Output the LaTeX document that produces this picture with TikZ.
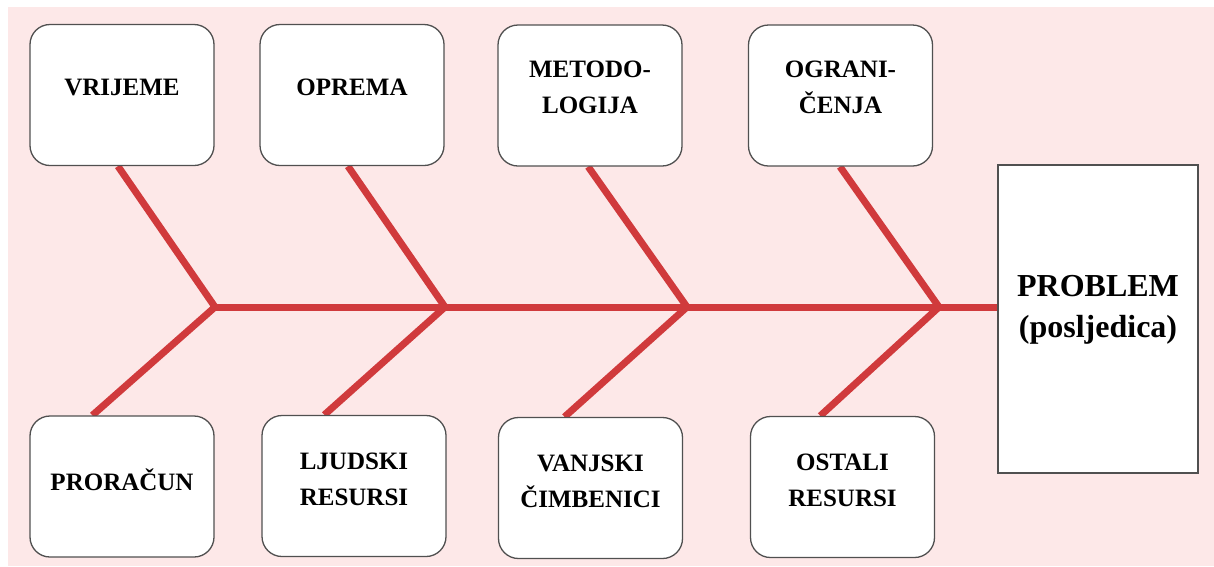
\documentclass[tikz,border=0pt]{standalone}
\usepackage{fontspec}
\setmainfont{Liberation Serif}
\usetikzlibrary{calc}
\pgfdeclarelayer{bg}
\pgfsetlayers{bg,main}
\definecolor{bonered}{RGB}{208,58,60}
\definecolor{pinkbg}{RGB}{253,232,232}
\definecolor{edgegray}{RGB}{80,80,80}
\tikzset{
  causebox/.style={draw=edgegray, line width=1.3pt, fill=white, rounded corners=20pt,
    minimum width=184pt, minimum height=141pt, inner sep=0pt},
  effectbox/.style={draw=edgegray, line width=1.5pt, fill=white,
    minimum width=200pt, minimum height=308pt, inner sep=0pt},
  lbl/.style={font=\fontsize{25}{36}\selectfont\bfseries, align=center, inner sep=0pt},
  biglbl/.style={font=\fontsize{32}{41}\selectfont\bfseries, align=center, inner sep=0pt},
  bone/.style={draw=bonered, line width=7pt, line join=miter},
}
\begin{document}
\begin{tikzpicture}[x=1pt,y=-1pt]
\useasboundingbox (0,0) rectangle (1214,566);
% cause boxes (top)
\node[causebox] (t1) at (122,95) {};
\node[causebox] (t2) at (352,95) {};
\node[causebox] (t3) at (590,95.5) {};
\node[causebox] (t4) at (840.5,95.5) {};
% cause boxes (bottom)
\node[causebox] (b1) at (122,486.5) {};
\node[causebox] (b2) at (354,486) {};
\node[causebox] (b3) at (590.5,488) {};
\node[causebox] (b4) at (842.5,487) {};
% effect
\node[effectbox] (pr) at (1098,319) {};
% labels
\node[lbl] (lt1) at ([yshift=8pt]t1.center) {VRIJEME};
\node[lbl] (lt2) at ([yshift=8pt]t2.center) {OPREMA};
\node[lbl] (lt3) at ([yshift=8pt]t3.center) {METODO-\\LOGIJA};
\node[lbl] (lt4) at ([yshift=8pt]t4.center) {OGRANI-\\ČENJA};
\node[lbl] (lb1) at ([yshift=7pt]b1.center) {PRORAČUN};
\node[lbl] (lb2) at ([yshift=7pt]b2.center) {LJUDSKI\\RESURSI};
\node[lbl] (lb3) at ([yshift=7pt]b3.center) {VANJSKI\\ČIMBENICI};
\node[lbl] (lb4) at ([yshift=7pt]b4.center) {OSTALI\\RESURSI};
\node[biglbl] (lpr) at ([yshift=9pt]pr.center) {PROBLEM\\(posljedica)};
% junctions
\coordinate (j1) at (215,307);
\coordinate (j2) at (445,307);
\coordinate (j3) at (687,307);
\coordinate (j4) at (939,307);
\begin{pgfonlayer}{bg}
\fill[pinkbg] (8,7) rectangle (1214,566);
\draw[bone] (j1) -- (j1 -| pr.west);
\draw[bone] ($(t1.south west)!0.478!(t1.south east)$) -- (j1) -- ($(b1.north west)!0.34!(b1.north east)$);
\draw[bone] ($(t2.south west)!0.478!(t2.south east)$) -- (j2) -- ($(b2.north west)!0.34!(b2.north east)$);
\draw[bone] ($(t3.south west)!0.49!(t3.south east)$) -- (j3) -- ($(b3.north west)!0.36!(b3.north east)$);
\draw[bone] ($(t4.south west)!0.497!(t4.south east)$) -- (j4) -- ($(b4.north west)!0.38!(b4.north east)$);
\end{pgfonlayer}
\end{tikzpicture}
\end{document}
